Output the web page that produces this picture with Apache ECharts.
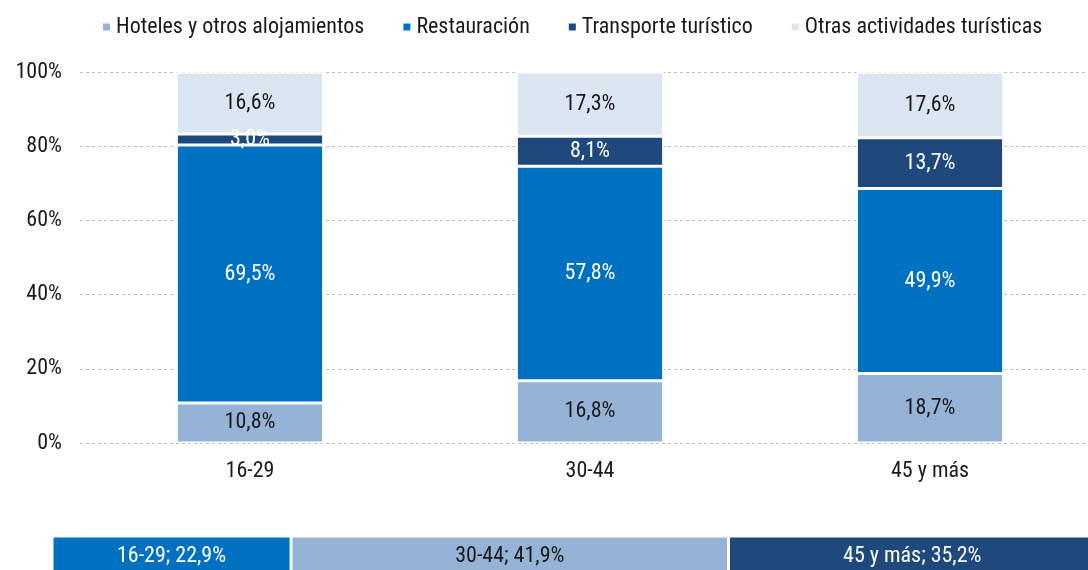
<!DOCTYPE html>
<html>
<head>
  <meta charset="utf-8">
  <script src="https://cdn.jsdelivr.net/npm/echarts@6.0.0/dist/echarts.min.js"></script>
  <style>
    body { margin: 0; padding: 0; background: #fff; }
    #main { width: 1088px; height: 570px; }
  </style>
</head>
<body>
<div id="main"></div>
<script>
  var categories = ['16-29', '30-44', '45 y más'];
  var hoteles = [10.8, 16.8, 18.7];
  var restauracion = [69.5, 57.8, 49.9];
  var transporte = [3.0, 8.1, 13.7];
  var otras = [16.6, 17.3, 17.6];
  var shares = [22.9, 41.9, 35.2];
  var yTicks = [0, 20, 40, 60, 80, 100];

  var fontFam = '"Liberation Sans Narrow", "Roboto Condensed", "DejaVu Sans Condensed", sans-serif';
  var colors = ['#95B3D7', '#0070C0', '#1F497D', '#DCE6F2'];
  var shareColors = ['#0070C0', '#95B3D7', '#1F497D'];

  function fmt(v) { return v.toFixed(1).replace('.', ',') + '%'; }

  function stackSeries(name, data, color, txtColor) {
    return {
      name: name,
      type: 'bar',
      stack: 'total',
      barWidth: '43.3%',
      data: data,
      itemStyle: { color: color, borderColor: '#fff', borderWidth: 1.5 },
      label: {
        show: true,
        position: 'inside',
        color: txtColor,
        fontFamily: fontFam,
        fontSize: 22,
        formatter: function (p) { return fmt(p.value); }
      }
    };
  }

  var series = [
    stackSeries('Hoteles y otros alojamientos', hoteles, colors[0], '#1a1a1a'),
    stackSeries('Restauración', restauracion, colors[1], '#fff'),
    stackSeries('Transporte turístico', transporte, colors[2], '#fff'),
    stackSeries('Otras actividades turísticas', otras, colors[3], '#1a1a1a')
  ];

  shares.forEach(function (v, i) {
    series.push({
      name: categories[i],
      type: 'bar',
      stack: 'share',
      xAxisIndex: 1,
      yAxisIndex: 1,
      barWidth: '100%',
      data: [v],
      itemStyle: { color: shareColors[i], borderColor: '#fff', borderWidth: 1.5 },
      label: {
        show: true,
        position: 'inside',
        color: i === 1 ? '#1a1a1a' : '#fff',
        fontFamily: fontFam,
        fontSize: 22,
        formatter: categories[i] + '; ' + fmt(v)
      }
    });
  });

  var chart = echarts.init(document.getElementById('main'));
  chart.setOption({
    animation: false,
    legend: {
      data: series.slice(0, 4).map(function (s) { return s.name; }),
      top: 11,
      left: 96,
      icon: 'rect',
      itemWidth: 9,
      itemHeight: 9,
      itemGap: 37,
      textStyle: { fontFamily: fontFam, fontSize: 22, color: '#1a1a1a' }
    },
    grid: [
      { left: 80, top: 72, width: 1020, height: 371, outerBoundsMode: 'none' },
      { left: 52, top: 536, width: 1044, height: 40, outerBoundsMode: 'none' }
    ],
    xAxis: [
      {
        type: 'category',
        gridIndex: 0,
        data: categories,
        axisLine: { show: false },
        axisTick: { show: false },
        axisLabel: { fontFamily: fontFam, fontSize: 22, color: '#1a1a1a', margin: 17 }
      },
      {
        type: 'value',
        gridIndex: 1,
        min: 0,
        max: 100,
        show: false
      }
    ],
    yAxis: [
      {
        type: 'value',
        gridIndex: 0,
        min: yTicks[0],
        max: yTicks[yTicks.length - 1],
        interval: 20,
        axisLabel: {
          fontFamily: fontFam, fontSize: 22, color: '#1a1a1a', margin: 18,
          formatter: '{value}%'
        },
        splitLine: { lineStyle: { color: '#bfbfbf', type: [3, 3] } }
      },
      {
        type: 'category',
        gridIndex: 1,
        data: ['share'],
        show: false
      }
    ],
    series: series
  });
</script>
</body>
</html>
